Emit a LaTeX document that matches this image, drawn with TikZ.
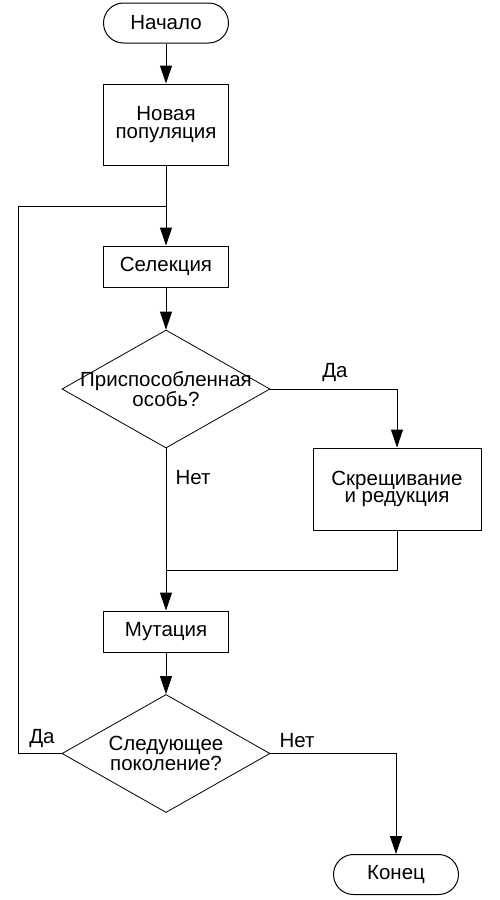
\documentclass[tikz,border=0pt]{standalone}
\usepackage{fontspec}
\setmainfont{Liberation Sans}
\usetikzlibrary{arrows.meta,shapes.geometric}
\begin{document}
\begin{tikzpicture}[x=1pt,y=-1pt,
  font=\fontsize{20.5}{17.5}\selectfont,
  every path/.style={line width=1pt},
  terminal/.style={draw, rounded corners=20pt, minimum width=125pt, minimum height=40pt, inner sep=0pt},
  process/.style={draw, minimum width=125pt, inner sep=0pt, align=center},
  decision/.style={draw, diamond, minimum width=208pt, minimum height=118pt, inner sep=0pt, line width=0.8pt},
  arr/.style={-{Triangle[width=12pt,length=18pt]}},
  lbl/.style={inner sep=0pt}
]
% canvas
\fill[white] (0,0) rectangle (500,900);

% nodes
\node[terminal] (start) at (166,23) {Начало};
\node[process, minimum height=81pt] (newpop) at (166,124.5) {Новая\\популяция};
\node[process, minimum height=41pt] (sel) at (166,266.5) {Селекция};
\node[decision, label={[align=center]center:Приспособленная\\особь?}] (fit) at (166,389) {};
\node[process, minimum width=168pt, minimum height=82pt] (cross) at (397,489) {Скрещивание\\и редукция};
\node[process, minimum height=41pt] (mut) at (166,631.5) {Мутация};
\node[decision, label={[align=center]center:Следующее\\поколение?}] (next) at (166,753.5) {};
\node[terminal] (stop) at (396,874.5) {Конец};

% junction points
\coordinate (loopin) at (166,206);
\coordinate (merge) at (166,570);
\coordinate (loopcorner) at (18,206);

% connectors
\draw[arr] (start) -- (newpop);
\draw (newpop) -- (loopin);
\draw[arr] (loopin) -- (sel);
\draw[arr] (sel) -- (fit.north);
\draw[arr] (fit.east) -| (cross.north);
\draw (cross.south) |- (merge);
\draw[arr] (fit.south) -- (mut.north);
\draw[arr] (mut) -- (next.north);
\draw (next.west) -| (loopcorner) -- (loopin);
\draw[arr] (next.east) -| (stop.north);

% branch labels
\node[lbl] (yes1) at (335,372) {Да};
\node[lbl] (no1) at (193,478) {Нет};
\node[lbl] (yes2) at (42,738) {Да};
\node[lbl] (no2) at (297,741) {Нет};
\end{tikzpicture}
\end{document}
